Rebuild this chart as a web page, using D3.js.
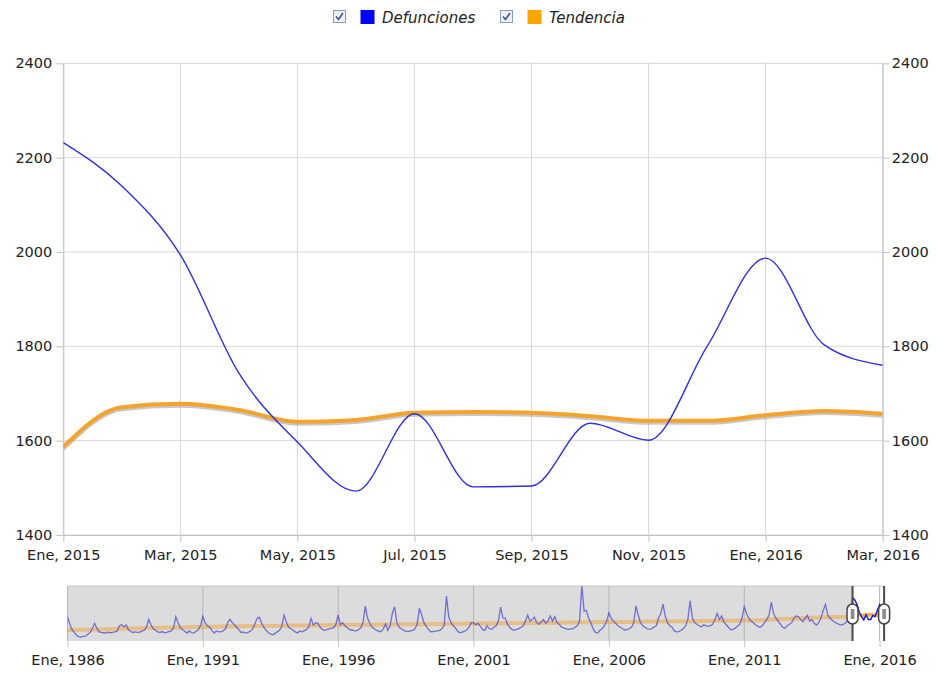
<!DOCTYPE html>
<html>
<head>
<meta charset="utf-8">
<script src="https://cdnjs.cloudflare.com/ajax/libs/d3/7.8.5/d3.min.js"></script>
<style>
  body { margin: 0; background: #fff; }
  text { font-family: "DejaVu Sans", Verdana, sans-serif; fill: #222; }
</style>
</head>
<body>
<svg id="chart" width="936" height="673"></svg>
<script>
// ---------------- DATA ----------------
const monthNames = ["Ene","Feb","Mar","Abr","May","Jun","Jul","Ago","Sep","Oct","Nov","Dic"];
const startYear = 1986;               // first month of the series: Ene, 1986
const seriesNames = ["Defunciones", "Tendencia"];

// Monthly deaths, Ene 1986 .. Mar 2016 (one row per year)
const defunciones = [
  1585,1360,1180,1080,990,940,930,950,960,1020,1080,1200,      // 1986
  1380,1220,1100,1080,1070,1060,1090,1070,1080,1100,1120,1290, // 1987
  1340,1260,1320,1170,1110,1080,1100,1080,1090,1120,1150,1250, // 1988
  1510,1330,1200,1150,1100,1080,1110,1070,1080,1110,1130,1230, // 1989
  1590,1400,1240,1170,1120,1060,1130,1070,1060,1120,1170,1310, // 1990
  1600,1400,1300,1250,1150,1060,1130,1100,1110,1130,1200,1400, // 1991
  1510,1400,1330,1250,1160,1080,1090,1060,1080,1120,1180,1350, // 1992
  1540,1580,1400,1250,1150,1080,1030,1000,1050,1100,1150,1280, // 1993
  1650,1420,1250,1200,1150,1100,1060,1130,1100,1140,1180,1270, // 1994
  1540,1320,1400,1380,1250,1180,1150,1170,1200,1220,1230,1350, // 1995
  1650,1330,1400,1300,1230,1180,1160,1140,1130,1170,1230,1400, // 1996
  1940,1550,1380,1250,1200,1150,1120,1100,1200,1360,1150,1300, // 1997
  1700,1920,1400,1250,1200,1150,1120,1110,1130,1150,1200,1350, // 1998
  1870,1650,1400,1280,1180,1100,1110,1120,1130,1150,1200,1320, // 1999
  2270,1600,1400,1300,1220,1120,1070,1090,1120,1160,1250,1400, // 2000
  1400,1330,1380,1280,1180,1150,1300,1200,1180,1250,1300,1450, // 2001
  1910,1560,1550,1350,1250,1180,1150,1180,1200,1250,1300,1450, // 2002
  1650,1450,1500,1580,1400,1350,1420,1500,1380,1450,1620,1450, // 2003
  1600,1400,1350,1250,1230,1200,1180,1200,1200,1250,1300,1450, // 2004
  2600,1780,1800,1550,1400,1200,1080,1060,1150,1200,1300,1450, // 2005
  1720,1550,1450,1380,1300,1250,1200,1160,1170,1200,1250,1400, // 2006
  1945,1650,1400,1300,1250,1200,1190,1200,1260,1300,1550,1700, // 2007
  2010,1600,1400,1300,1250,1130,1100,1110,1150,1200,1300,1500, // 2008
  2120,1550,1400,1350,1300,1260,1330,1300,1280,1300,1350,1500, // 2009
  1700,1500,1620,1420,1330,1250,1170,1180,1220,1280,1350,1550, // 2010
  1920,1700,1550,1450,1400,1330,1280,1250,1300,1400,1500,1650, // 2011
  2070,1700,1550,1450,1350,1250,1220,1300,1350,1400,1550,1620, // 2012
  1600,1500,1430,1550,1640,1450,1500,1380,1320,1400,1550,1800, // 2013
  2000,1650,1550,1480,1420,1380,1340,1320,1350,1400,1500,1700, // 2014
  2232,2140,1994,1743,1597,1493,1657,1502,1504,1637,1601,1800, // 2015
  1987,1803,1760                                                // 2016
];

// Trend: one reading per January 1986..2014, then monthly Ene 2015..Mar 2016
const tendenciaYears = [1986,1987,1988,1989,1990,1991,1992,1993,1994,1995,1996,1997,1998,1999,2000,
                        2001,2002,2003,2004,2005,2006,2007,2008,2009,2010,2011,2012,2013,2014];
const tendenciaAnual = [1160,1180,1200,1225,1245,1265,1280,1290,1300,1310,1320,1330,1340,1350,1360,
                        1370,1380,1390,1400,1410,1420,1430,1440,1450,1460,1470,1500,1540,1580];
const tendenciaMensual = [1587,1671,1678,1665,1640,1644,1659,1661,1659,1652,1642,1642,1654,1663,1657];

const yTicks = [1400,1600,1800,2000,2200,2400];
const mainTickMonths = [0,2,4,6,8,10,12,14];      // months after Ene 2015
const navTickYears = [1986,1991,1996,2001,2006,2011,2016];

// ---------------- BUILD ----------------
const defSeries = defunciones.map((v,i) => ({t:i, v}));
const viewStart = (2015 - startYear) * 12;          // Ene 2015
const viewEnd = defunciones.length - 1;             // Mar 2016
const trendSeries = tendenciaYears.map((yr,i) => ({t:(yr-startYear)*12, v:tendenciaAnual[i]}))
  .concat(tendenciaMensual.map((v,i) => ({t:viewStart+i, v})));

const fmt = t => monthNames[t % 12] + ", " + (startYear + Math.floor(t / 12));

const svg = d3.select("#chart");
const FONT = "14.5px";

// ---------- Main chart ----------
const L = 63.3, R = 882.7, T = 63.3, B = 535;
const x = d3.scaleLinear().domain([viewStart, viewEnd]).range([L, R]);
const y = d3.scaleLinear().domain([1400, 2400]).range([B, T]);

const mainTicks = mainTickMonths.map(m => viewStart + m);

// grid
const grid = svg.append("g");
grid.selectAll("line.h").data(yTicks).join("line")
  .attr("x1", L).attr("x2", R).attr("y1", d => y(d)).attr("y2", d => y(d))
  .attr("stroke", "#d6d6d6").attr("stroke-width", 1);
grid.selectAll("line.v").data(mainTicks).join("line")
  .attr("x1", d => x(d)).attr("x2", d => x(d)).attr("y1", T).attr("y2", B)
  .attr("stroke", "#d6d6d6").attr("stroke-width", 1);

function styleAxis(g) {
  g.selectAll("path.domain").attr("stroke", "#c4c4c4");
  g.selectAll(".tick line").attr("stroke", "#c4c4c4");
  g.selectAll("text").style("font-size", FONT).attr("fill", "#222")
    .style("font-family", "'DejaVu Sans', Verdana, sans-serif");
}

svg.append("g").attr("transform", `translate(${L},0)`)
  .call(d3.axisLeft(y).tickValues(yTicks).tickSize(7).tickPadding(4).tickSizeOuter(0).tickFormat(d3.format("d")))
  .call(styleAxis);
svg.append("g").attr("transform", `translate(${R},0)`)
  .call(d3.axisRight(y).tickValues(yTicks).tickSize(7).tickPadding(2).tickSizeOuter(0).tickFormat(d3.format("d")))
  .call(styleAxis);
svg.append("g").attr("transform", `translate(0,${B})`)
  .call(d3.axisBottom(x).tickValues(mainTicks).tickSize(7).tickPadding(8).tickSizeOuter(0).tickFormat(fmt))
  .call(styleAxis);

const clip = svg.append("clipPath").attr("id", "mainClip")
  .append("rect").attr("x", L).attr("y", T - 5).attr("width", R - L).attr("height", B - T + 10);

const viewDef = defSeries.filter(d => d.t >= viewStart);
const viewTrend = trendSeries.filter(d => d.t >= viewStart);

const lineMain = d3.line().x(d => x(d.t)).y(d => y(d.v)).curve(d3.curveMonotoneX);
const plot = svg.append("g").attr("clip-path", "url(#mainClip)");

plot.append("path").datum(viewTrend).attr("d", lineMain)
  .attr("fill", "none").attr("stroke", "#9a9a9a").attr("stroke-opacity", 0.55)
  .attr("stroke-width", 4).attr("transform", "translate(0,2)");
plot.append("path").datum(viewTrend).attr("d", lineMain)
  .attr("fill", "none").attr("stroke", "#f4a42c").attr("stroke-width", 4);
plot.append("path").datum(viewDef).attr("d", lineMain)
  .attr("fill", "none").attr("stroke", "#3030dc").attr("stroke-width", 1.4);

// ---------- Legend ----------
const legendColors = ["#0000ff", "#ffa500"];
const legendX = [333, 500];
seriesNames.forEach((name, i) => {
  const g = svg.append("g").attr("transform", `translate(${legendX[i]},10)`);
  g.append("rect").attr("x", 0.5).attr("y", 0.5).attr("width", 12).attr("height", 12)
    .attr("fill", "#eef1f7").attr("stroke", "#8c9bb4");
  g.append("path").attr("d", "M3,6.5 L5.5,9.5 L10,3")
    .attr("fill", "none").attr("stroke", "#3f5589").attr("stroke-width", 1.6);
  g.append("rect").attr("x", 27.5).attr("y", 0).attr("width", 14).attr("height", 14)
    .attr("fill", legendColors[i]);
  g.append("text").attr("x", 49).attr("y", 12.5).text(name)
    .style("font-size", "15px").style("font-style", "italic");
});

// ---------- Navigator ----------
const NT = 586, NB = 641;
const nx = d3.scaleLinear().domain([0, 360]).range([67.5, 879.6]);
const ny = d3.scaleLinear().domain([800, 2600]).range([NB, NT]);
const navL = nx(0), navR = nx(viewEnd);

svg.append("rect").attr("x", navL).attr("y", NT).attr("width", navR - navL).attr("height", NB - NT)
  .attr("fill", "#dcdcdc");
svg.append("rect").attr("x", nx(viewStart)).attr("y", NT).attr("width", navR - nx(viewStart)).attr("height", NB - NT)
  .attr("fill", "#ffffff");
svg.append("line").attr("x1", navL).attr("x2", navR).attr("y1", NT).attr("y2", NT)
  .attr("stroke", "#c8c8c8");

const navTicks = navTickYears.map(yr => (yr - startYear) * 12);
svg.append("g").selectAll("line").data(navTicks).join("line")
  .attr("x1", d => nx(d)).attr("x2", d => nx(d)).attr("y1", NT).attr("y2", NB)
  .attr("stroke", "#b4b4b4");
svg.append("g").attr("transform", `translate(0,${NB})`)
  .call(d3.axisBottom(nx).tickValues(navTicks).tickSize(6).tickPadding(8).tickSizeOuter(0).tickFormat(fmt))
  .call(g => {
    styleAxis(g);
    g.select("path.domain").remove();
  });

const lineNav = d3.line().x(d => nx(d.t)).y(d => ny(d.v));
svg.append("clipPath").attr("id", "navClip").append("rect")
  .attr("x", navL).attr("y", NT).attr("width", navR - navL).attr("height", NB - NT);
svg.append("clipPath").attr("id", "selClip").append("rect")
  .attr("x", nx(viewStart)).attr("y", NT).attr("width", navR - nx(viewStart)).attr("height", NB - NT);

const navG = svg.append("g").attr("clip-path", "url(#navClip)");
navG.append("path").datum(trendSeries).attr("d", lineNav.curve(d3.curveMonotoneX))
  .attr("fill", "none").attr("stroke", "#f0a030").attr("stroke-opacity", 0.5).attr("stroke-width", 4);
navG.append("path").datum(defSeries).attr("d", lineNav.curve(d3.curveLinear))
  .attr("fill", "none").attr("stroke", "#4040d0").attr("stroke-opacity", 0.7).attr("stroke-width", 1.3);

const selG = svg.append("g").attr("clip-path", "url(#selClip)");
selG.append("path").datum(trendSeries).attr("d", lineNav.curve(d3.curveMonotoneX))
  .attr("fill", "none").attr("stroke", "#f4a42c").attr("stroke-opacity", 0.8).attr("stroke-width", 3);
selG.append("path").datum(defSeries).attr("d", lineNav.curve(d3.curveLinear))
  .attr("fill", "none").attr("stroke", "#1a1aee").attr("stroke-width", 1.3);

// handles
[viewStart, viewEnd].forEach(t => {
  const hx = nx(t);
  const g = svg.append("g");
  g.append("line").attr("x1", hx).attr("x2", hx).attr("y1", NT).attr("y2", NB)
    .attr("stroke", "#4a4a4a").attr("stroke-width", 2);
  g.append("rect").attr("x", hx - 5.5).attr("y", 604).attr("width", 11).attr("height", 20).attr("rx", 5.5)
    .attr("fill", "#fafafa").attr("stroke", "#444").attr("stroke-width", 1.5);
  g.append("rect").attr("x", hx - 1.8).attr("y", 609).attr("width", 3.6).attr("height", 10)
    .attr("fill", "#8a8a8a");
});
</script>
</body>
</html>
